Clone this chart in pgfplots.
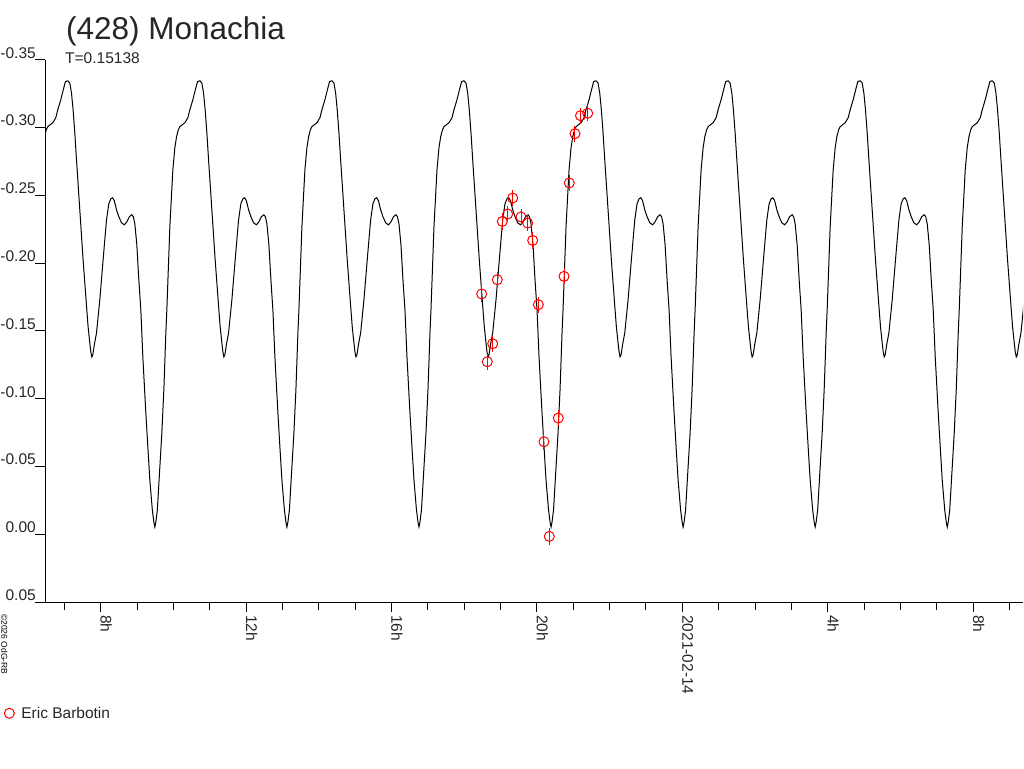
\documentclass[border=0pt]{standalone}
\usepackage{fontspec}
\setmainfont{Liberation Sans}
\usepackage{pgfplots}
\usepackage{pgfplotstable}
\pgfplotsset{compat=1.18}

% one rotation period of the model lightcurve (t in hours after maximum)
\pgfplotstableread{
t v
0.0000 -0.3345
0.0551 -0.3328
0.1018 -0.3254
0.1459 -0.3131
0.1927 -0.2962
0.2395 -0.2762
0.3303 -0.2393
0.4211 -0.2024
0.5230 -0.1655
0.5588 -0.1530
0.6056 -0.1411
0.6331 -0.1345
0.6606 -0.1308
0.6881 -0.1323
0.7294 -0.1397
0.7900 -0.1485
0.8808 -0.1729
0.9716 -0.2024
1.0652 -0.2319
1.1285 -0.2438
1.1836 -0.2474
1.2304 -0.2482
1.2799 -0.2460
1.3405 -0.2393
1.4038 -0.2342
1.4781 -0.2297
1.5552 -0.2282
1.6240 -0.2304
1.6928 -0.2342
1.7616 -0.2356
1.8029 -0.2342
1.8442 -0.2290
1.8993 -0.2135
1.9543 -0.1877
2.0094 -0.1655
2.0644 -0.1308
2.1470 -0.0895
2.2020 -0.0644
2.2571 -0.0400
2.3259 -0.0179
2.3672 -0.0090
2.3947 -0.0053
2.4222 -0.0090
2.4635 -0.0179
2.5323 -0.0496
2.5874 -0.0747
2.6424 -0.1065
2.6975 -0.1485
2.7250 -0.1655
2.8076 -0.2268
2.8902 -0.2688
2.9452 -0.2851
2.9920 -0.2932
3.0416 -0.2984
3.0828 -0.3006
3.1516 -0.3021
3.2204 -0.3035
3.3031 -0.3072
3.3581 -0.3131
3.4407 -0.3205
3.5095 -0.3279
3.5673 -0.3338
3.6331 -0.3345
}\period

% observations (hours since 2021-02-13 0h, magnitude, error)
\pgfplotstableread{
x y e
18.481 -0.1772 0.006
18.635 -0.1272 0.006
18.784 -0.1405 0.006
18.911 -0.1877 0.006
19.048 -0.2307 0.006
19.197 -0.2362 0.006
19.334 -0.2480 0.006
19.563 -0.2340 0.006
19.747 -0.2295 0.006
19.884 -0.2167 0.006
20.039 -0.1693 0.006
20.195 -0.0682 0.006
20.341 0.0016 0.006
20.589 -0.0857 0.006
20.746 -0.1902 0.006
20.891 -0.2591 0.006
21.048 -0.2954 0.006
21.199 -0.3087 0.006
21.398 -0.3105 0.006
}\obs

\begin{document}
\begin{tikzpicture}
\path[use as bounding box] (0pt,0pt) rectangle (1024pt,768pt);
\begin{axis}[
  at={(45pt,166pt)}, anchor=south west,
  scale only axis, width=978pt, height=542.3pt,
  xmin=6.468, xmax=33.373,
  ymin=-0.35, ymax=0.05, y dir=reverse,
  axis x line=bottom, axis y line=left,
  axis line style={-, line width=1pt, black},
  tick align=outside,
  major tick length=10pt, minor tick length=8pt,
  every tick/.style={black, line width=1pt},
  xtick={8,12,16,20,24,28,32},
  xticklabels={8h,12h,16h,20h,2021-02-14,4h,8h},
  minor xtick={7,9,10,11,13,14,15,17,18,19,21,22,23,25,26,27,29,30,31,33},
  ytick={-0.35,-0.30,-0.25,-0.20,-0.15,-0.10,-0.05,0,0.05},
  yticklabels={-0.35,-0.30,-0.25,-0.20,-0.15,-0.10,-0.05,0.00,0.05},
  tick label style={font=\fontsize{15.5}{18}\selectfont, text=black!85},
  xticklabel style={yshift=-3pt, rotate=-90, anchor=base west, inner sep=0pt},
  yticklabel style={anchor=base east, inner sep=0pt, yshift=1.5pt, xshift=1pt},
  /pgf/number format/assume math mode=true,
  legend style={at={(axis description cs:-0.0421,-0.2052)}, anchor=west,
    draw=none, fill=none, inner sep=0pt, outer sep=0pt,
    font=\fontsize{15.5}{18}\selectfont, text=black!85,
    cells={anchor=west},
    /tikz/every odd column/.append style={column sep=4.5pt}},
  legend image code/.code={\draw[red, line width=1pt] (0pt,0pt) circle (5pt);},
]
\addplot[black, line width=1pt, forget plot] table[x expr=\thisrow{t}+3.4619, y=v]{\period};
\addplot[black, line width=1pt, forget plot] table[x expr=\thisrow{t}+7.0950, y=v]{\period};
\addplot[black, line width=1pt, forget plot] table[x expr=\thisrow{t}+10.7281, y=v]{\period};
\addplot[black, line width=1pt, forget plot] table[x expr=\thisrow{t}+14.3612, y=v]{\period};
\addplot[black, line width=1pt, forget plot] table[x expr=\thisrow{t}+17.9943, y=v]{\period};
\addplot[black, line width=1pt, forget plot] table[x expr=\thisrow{t}+21.6274, y=v]{\period};
\addplot[black, line width=1pt, forget plot] table[x expr=\thisrow{t}+25.2605, y=v]{\period};
\addplot[black, line width=1pt, forget plot] table[x expr=\thisrow{t}+28.8936, y=v]{\period};
\addplot[black, line width=1pt, forget plot] table[x expr=\thisrow{t}+32.5267, y=v]{\period};
\addplot[red, only marks, mark=o, mark size=5pt, line width=1pt,
  error bars/.cd, y dir=both, y explicit,
  error bar style={red, line width=1pt}, error mark=none]
  table[x=x, y=y, y error=e]{\obs};
\addlegendentry{Eric Barbotin}
\end{axis}
\node[anchor=base west, inner sep=0pt, font=\fontsize{31.5}{36}\selectfont, text=black!85] at (66pt,728pt) {(428) Monachia};
\node[anchor=base west, inner sep=0pt, font=\fontsize{15.5}{18}\selectfont, text=black!85] at (65pt,704pt) {T=0.15138};
\node[anchor=base west, inner sep=0pt, rotate=-90, font=\fontsize{8.5}{10}\selectfont] at (1.5pt,154pt) {©2026 OdG-RB};
\end{tikzpicture}
\end{document}
